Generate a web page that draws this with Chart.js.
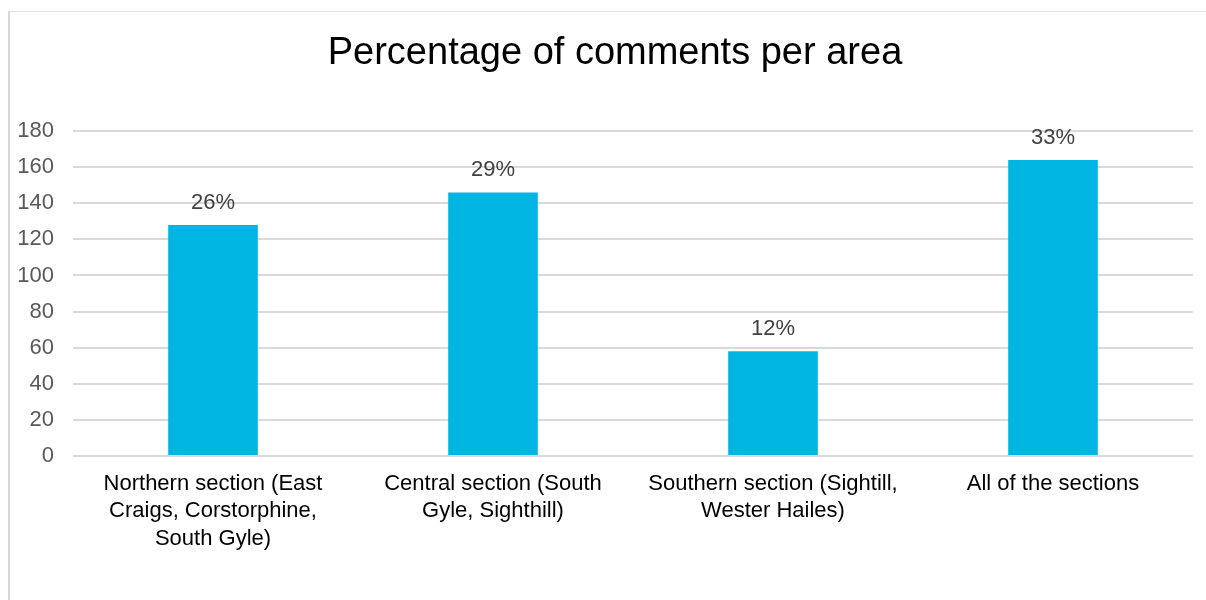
<!DOCTYPE html>
<html>
<head>
<meta charset="utf-8">
<script src="https://cdn.jsdelivr.net/npm/chart.js@4/dist/chart.umd.min.js"></script>
<style>
  html, body { margin: 0; padding: 0; background: #fff; }
  #wrap { position: relative; width: 1206px; height: 600px; overflow: hidden; }
  #frame { position: absolute; left: 8px; top: 11px; width: 1300px; height: 700px;
           border-left: 2px solid #d9d9d9; border-top: 1px solid #e3e3e3; }
  #chart { position: absolute; left: 0; top: 0; }
</style>
</head>
<body>
<div id="wrap">
  <div id="frame"></div>
  <canvas id="chart" width="1206" height="600"></canvas>
</div>
<script>
const areas = [
  ["Northern section (East", "Craigs, Corstorphine,", "South Gyle)"],
  ["Central section (South", "Gyle, Sighthill)"],
  ["Southern section (Sightill,", "Wester Hailes)"],
  "All of the sections"
];
const comments = [128, 146, 58, 164];
const shares = ["26%", "29%", "12%", "33%"];
const yTicks = { min: 0, max: 180, step: 20 };

// draws the percentage above each bar
const shareLabels = {
  id: "shareLabels",
  afterLayout(chart) {
    // title is centred a bit right of the canvas middle in the original
    chart.titleBlock.left = 37;
    chart.titleBlock.right = 1193;
  },
  afterDatasetsDraw(chart) {
    const ctx = chart.ctx;
    const bars = chart.getDatasetMeta(0).data;
    ctx.save();
    ctx.font = "22px 'Liberation Sans', Arial, sans-serif";
    ctx.fillStyle = "#404040";
    ctx.textAlign = "center";
    ctx.textBaseline = "alphabetic";
    bars.forEach((bar, i) => {
      ctx.fillText(shares[i], bar.x, bar.y - 16);
    });
    ctx.restore();
  }
};

new Chart(document.getElementById("chart"), {
  type: "bar",
  data: {
    labels: areas,
    datasets: [{
      label: "Comments",
      data: comments,
      backgroundColor: "#00b5e2",
      borderWidth: 0,
      categoryPercentage: 1,
      barPercentage: 0.32
    }]
  },
  options: {
    responsive: false,
    animation: false,
    layout: { padding: { left: 0, right: 13, top: 0, bottom: 0 } },
    plugins: {
      legend: { display: false },
      tooltip: { enabled: false },
      title: {
        display: true,
        text: "Percentage of comments per area",
        color: "#000",
        font: { family: "'Liberation Sans', Arial, sans-serif", size: 38, weight: "normal" },
        padding: { top: 31, bottom: 54.4 }
      }
    },
    scales: {
      x: {
        grid: { display: false, drawTicks: false },
        border: { display: false },
        ticks: {
          color: "#000",
          maxRotation: 0,
          autoSkip: false,
          padding: 14,
          font: { family: "'Liberation Sans', Arial, sans-serif", size: 22, lineHeight: 1.25 }
        },
        afterFit(scale) { scale.height = 144; }
      },
      y: {
        min: yTicks.min,
        max: yTicks.max,
        grid: { color: "#d9d9d9", lineWidth: 2, drawTicks: false },
        border: { display: false },
        ticks: {
          stepSize: yTicks.step,
          color: "#595959",
          padding: 19,
          font: { family: "'Liberation Sans', Arial, sans-serif", size: 22 }
        },
        afterFit(scale) { scale.width = 73; }
      }
    }
  },
  plugins: [shareLabels]
});
</script>
</body>
</html>
